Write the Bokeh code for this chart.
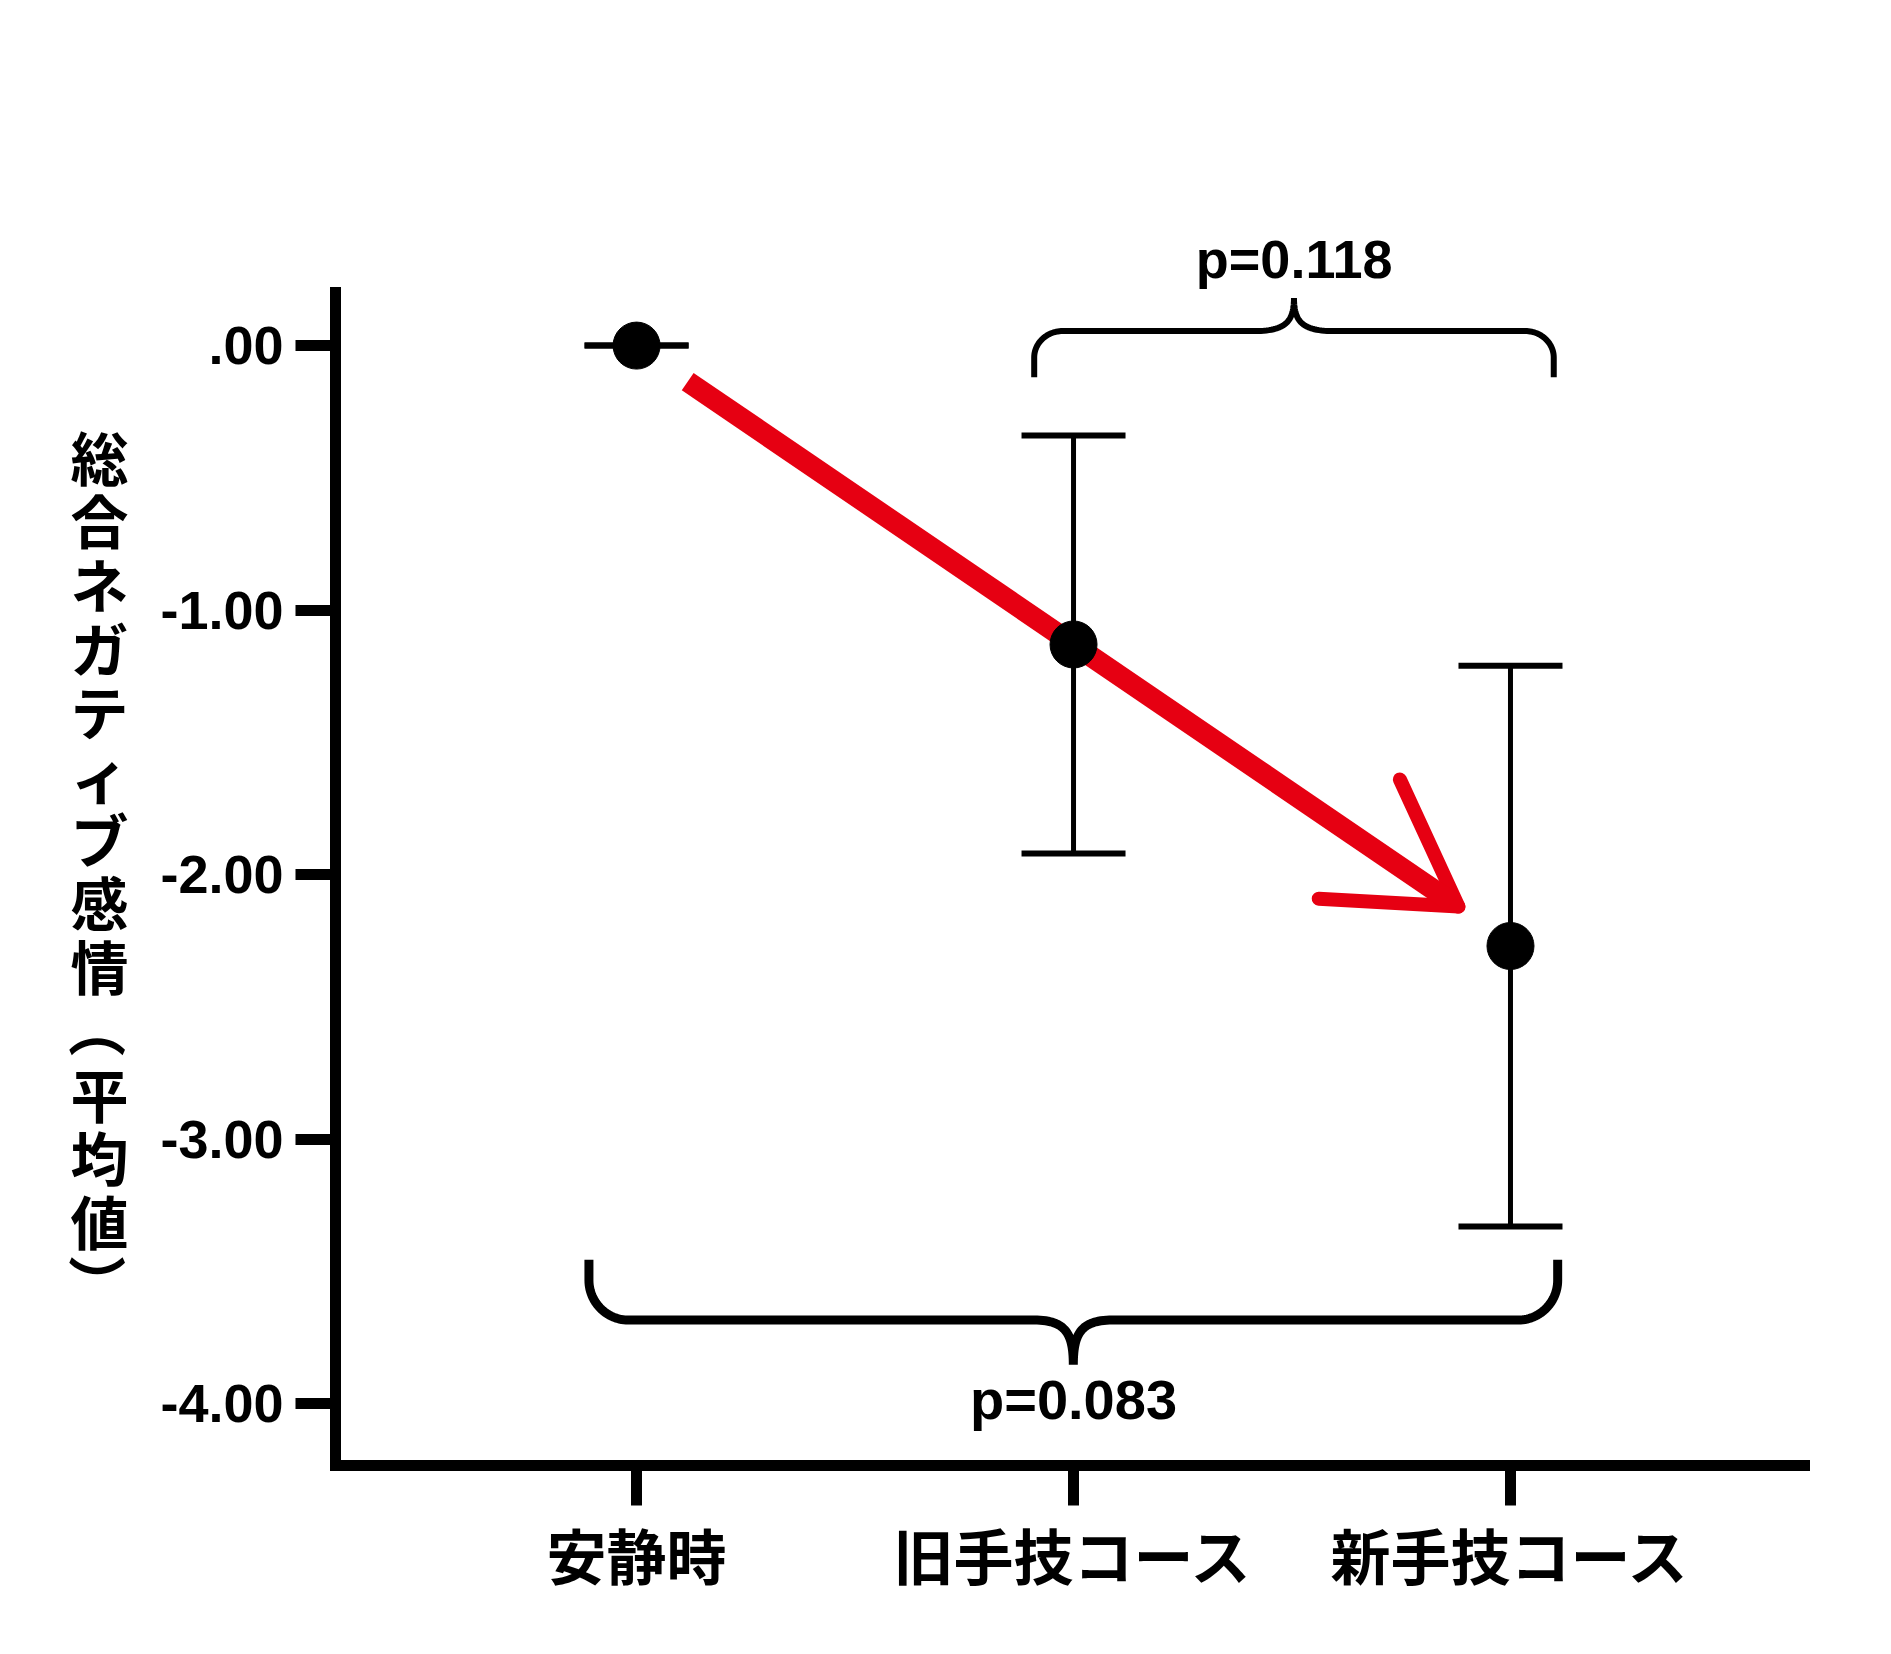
import numpy as np
from bokeh.plotting import figure
from bokeh.layouts import row
from bokeh.models import (ColumnDataSource, Whisker, TeeHead, Arrow,
                          FixedTicker, Range1d)
from bokeh.core.properties import value
from bokeh.embed import file_html
from bokeh.resources import INLINE

# ---------------- data ----------------
categories = ["安静時", "旧手技コース", "新手技コース"]
means = [0.0, -1.13, -2.27]
sems = [0.0, 0.79, 1.06]
y_ticks = [0, -1, -2, -3, -4]
y_tick_labels = [".00", "-1.00", "-2.00", "-3.00", "-4.00"]
y_label = "総合ネガティブ感情（平均値）"
p_labels = ["p=0.118", "p=0.083"]

RED = "#E60012"
BLACK = "#000000"

H = 1646
TOP, BOTTOM = 38, 181
Y0, Y1 = -4.234, 1.161
X0, X1 = -0.689, 2.785
LEFT_W = 150
MAIN_W = 1883 - LEFT_W
FRAME_W = MAIN_W - (335 - LEFT_W) - 30
FRAME_H = H - TOP - BOTTOM
PX_X = FRAME_W / (X1 - X0)   # pixels per data unit (x)
PX_Y = FRAME_H / (Y1 - Y0)   # pixels per data unit (y)

x = np.arange(len(categories))
m = np.array(means)
s = np.array(sems)

# ---------------- left panel: upright vertical axis title ----------------
lab = figure(width=LEFT_W, height=H, x_range=Range1d(0, LEFT_W), y_range=Range1d(Y0, Y1),
             output_backend="svg", toolbar_location=None,
             x_axis_type=None, y_axis_type=None,
             min_border_left=0, min_border_right=0, min_border_top=TOP, min_border_bottom=BOTTOM)
lab.outline_line_color = None
lab.grid.visible = False
chars = list(y_label)
cy = [-0.416 - i * 0.2408 for i in range(len(chars))]
cang = [(-np.pi / 2 if c in "（）" else 0.0) for c in chars]
lab.text(x=[99] * len(chars), y=cy, text=chars, angle=cang,
         text_align="center", text_baseline="middle",
         text_font=value("Noto Sans CJK JP"), text_font_style="bold",
         text_font_size="58px", text_color=BLACK)

# ---------------- main plot ----------------
p = figure(width=MAIN_W, height=H,
           x_range=Range1d(X0, X1), y_range=Range1d(Y0, Y1),
           output_backend="svg", toolbar_location=None,
           min_border_left=335 - LEFT_W, min_border_right=30,
           min_border_top=TOP, min_border_bottom=BOTTOM)
p.outline_line_color = None
p.grid.visible = False

xa = p.xaxis[0]
xa.ticker = FixedTicker(ticks=list(x))
xa.major_label_overrides = {int(i): c for i, c in zip(x, categories)}
xa.bounds = (X0, 2.672)
ya = p.yaxis[0]
ya.ticker = FixedTicker(ticks=y_ticks)
ya.major_label_overrides = {t: l for t, l in zip(y_ticks, y_tick_labels)}
ya.bounds = (Y0, 0.202)

for ax in (xa, ya):
    ax.axis_line_width = 11
    ax.axis_line_color = BLACK
    ax.axis_line_cap = "square"
    ax.major_tick_line_width = 11
    ax.major_tick_line_color = BLACK
    ax.major_tick_in = 0
    ax.major_tick_out = 40
    ax.minor_tick_line_color = None
    ax.major_label_text_color = BLACK

xa.major_label_text_font = "Noto Sans CJK JP"
xa.major_label_text_font_style = "bold"
xa.major_label_text_font_size = "60px"
xa.major_label_standoff = 4
ya.major_label_text_font = "Liberation Sans"
ya.major_label_text_font_style = "bold"
ya.major_label_text_font_size = "54px"
ya.major_label_standoff = 12

# error bars
src = ColumnDataSource(dict(x=x, mean=m, upper=m + s, lower=m - s))
wh = Whisker(base="x", upper="upper", lower="lower", source=src, dimension="height",
             line_width=5, line_color=BLACK, level="underlay",
             upper_head=TeeHead(size=104, line_width=6, line_color=BLACK),
             lower_head=TeeHead(size=104, line_width=6, line_color=BLACK))
p.add_layout(wh)

# red trend arrow (shaft + open head with 31 degree arms)
xs, ys, xe, ye = 0.117, -0.136, 1.881, -2.121
dpx = np.array([(xe - xs) * PX_X, -(ye - ys) * PX_Y])
dpx = dpx / np.hypot(*dpx)
back = -dpx
shaft_end = (xe - 8 * dpx[0] / PX_X, ye + 8 * dpx[1] / PX_Y)
p.add_layout(Arrow(x_start=xs, y_start=ys, x_end=shaft_end[0], y_end=shaft_end[1],
                   line_color=RED, line_width=21, level="underlay", end=None))
ARM, HALF = 140.0, np.deg2rad(31)
arm_x0, arm_y0, arm_x1, arm_y1 = [], [], [], []
for sgn in (1, -1):
    a = sgn * HALF
    v = np.array([back[0] * np.cos(a) - back[1] * np.sin(a),
                  back[0] * np.sin(a) + back[1] * np.cos(a)])
    arm_x0.append(xe)
    arm_y0.append(ye)
    arm_x1.append(xe + ARM * v[0] / PX_X)
    arm_y1.append(ye - ARM * v[1] / PX_Y)
p.segment(arm_x0, arm_y0, arm_x1, arm_y1, line_color=RED, line_width=14,
          line_cap="round", level="underlay")

# points
p.scatter(x="x", y="mean", source=src, size=47, fill_color=BLACK, line_color=BLACK)

# braces
def cubic(p0, p1, p2, p3, n=30):
    t = np.linspace(0, 1, n)[:, None]
    p0, p1, p2, p3 = map(np.asarray, (p0, p1, p2, p3))
    return (1 - t) ** 3 * p0 + 3 * (1 - t) ** 2 * t * p1 + 3 * (1 - t) * t ** 2 * p2 + t ** 3 * p3

def brace(x0, x1, y_tip, y_bar, y_peak, rx, ry, mx):
    sg = np.sign(y_bar - y_tip)
    xm = 0.5 * (x0 + x1)
    k = 0.45
    segs = [
        np.array([[x0, y_tip]]),
        cubic((x0, y_bar - sg * ry), (x0, y_bar - sg * ry * k), (x0 + rx * k, y_bar), (x0 + rx, y_bar)),
        cubic((xm - mx, y_bar), (xm - mx * 0.2, y_bar), (xm, y_bar + (y_peak - y_bar) * 0.3), (xm, y_peak)),
        cubic((xm, y_peak), (xm, y_bar + (y_peak - y_bar) * 0.3), (xm + mx * 0.2, y_bar), (xm + mx, y_bar)),
        cubic((x1 - rx, y_bar), (x1 - rx * k, y_bar), (x1, y_bar - sg * ry * k), (x1, y_bar - sg * ry)),
        np.array([[x1, y_tip]]),
    ]
    pts = np.vstack(segs)
    return pts[:, 0], pts[:, 1]

bx, by = brace(0.91, 2.099, -0.12, 0.055, 0.18, 0.065, 0.10, 0.09)
p.line(bx, by, line_width=6, line_color=BLACK, line_join="bevel")
bx, by = brace(-0.109, 2.108, -3.456, -3.684, -3.853, 0.09, 0.15, 0.09)
p.line(bx, by, line_width=9, line_color=BLACK, line_join="bevel")

p.text(x=[1.505], y=[0.329], text=[p_labels[0]], text_align="center", text_baseline="middle",
       text_font=value("Liberation Sans"), text_font_style="bold", text_font_size="54px",
       text_color=BLACK)
p.text(x=[1.0], y=[-3.985], text=[p_labels[1]], text_align="center", text_baseline="middle",
       text_font=value("Liberation Sans"), text_font_style="bold", text_font_size="56px",
       text_color=BLACK)

layout = row(lab, p, spacing=0)
open("out.html", "w").write(file_html(layout, INLINE))
